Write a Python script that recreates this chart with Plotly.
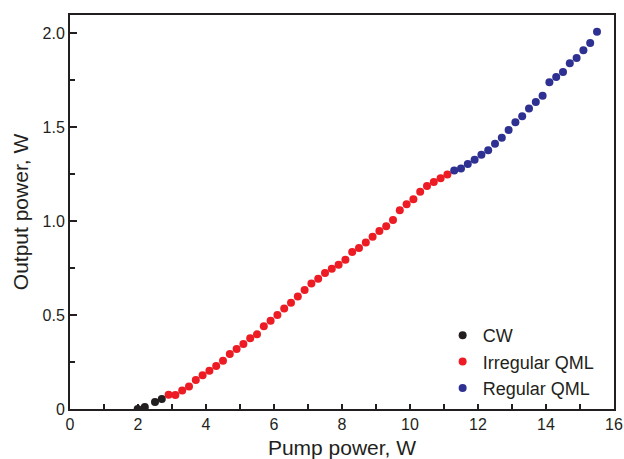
import plotly.graph_objects as go

cw_x = [1.99, 2.2, 2.5, 2.7]
cw_y = [0.0, 0.01, 0.037, 0.053]

irr_x = [2.9, 3.1, 3.3, 3.5, 3.7, 3.9, 4.1, 4.3, 4.5, 4.7, 4.9, 5.1, 5.3, 5.5, 5.7, 5.9,
         6.1, 6.3, 6.5, 6.7, 6.9, 7.1, 7.3, 7.5, 7.7, 7.9, 8.1, 8.3, 8.5, 8.7, 8.9, 9.1,
         9.3, 9.5, 9.7, 9.9, 10.1, 10.3, 10.5, 10.7, 10.9, 11.1]
irr_y = [0.076, 0.075, 0.099, 0.12, 0.154, 0.18, 0.204, 0.229, 0.257, 0.292, 0.319, 0.346,
         0.376, 0.397, 0.44, 0.47, 0.50, 0.535, 0.565, 0.599, 0.633, 0.668, 0.693, 0.723,
         0.746, 0.768, 0.794, 0.835, 0.856, 0.886, 0.916, 0.947, 0.972, 1.005, 1.057,
         1.089, 1.116, 1.156, 1.186, 1.208, 1.227, 1.247]

reg_x = [11.3, 11.5, 11.7, 11.9, 12.1, 12.3, 12.5, 12.7, 12.9, 13.1, 13.3, 13.5, 13.7,
         13.9, 14.1, 14.3, 14.5, 14.7, 14.9, 15.1, 15.3, 15.5]
reg_y = [1.269, 1.279, 1.303, 1.326, 1.353, 1.376, 1.411, 1.443, 1.484, 1.525, 1.557,
         1.598, 1.633, 1.667, 1.738, 1.766, 1.793, 1.839, 1.867, 1.908, 1.947, 2.007]

x_ticks = [0, 2, 4, 6, 8, 10, 12, 14, 16]
x_ticktext = ["0", "2", "4", "6", "8", "10", "12", "14", "16"]
y_ticks = [0, 0.5, 1.0, 1.5, 2.0]
y_ticktext = ["0", "0.5", "1.0", "1.5", "2.0"]

FONT = "Arial, Liberation Sans, Helvetica, sans-serif"
INK = "#231f20"

fig = go.Figure()
for name, xs, ys, col in [("CW", cw_x, cw_y, "#231f20"),
                          ("Irregular QML", irr_x, irr_y, "#ed1c24"),
                          ("Regular QML", reg_x, reg_y, "#2e3192")]:
    fig.add_trace(go.Scatter(x=xs, y=ys, mode="markers", name=name,
                             marker=dict(color=col, size=8, line=dict(width=0))))

fig.update_layout(
    width=624, height=459,
    margin=dict(l=70, r=10, t=15, b=50),
    paper_bgcolor="white", plot_bgcolor="white",
    font=dict(family=FONT, color=INK, size=16),
    showlegend=True,
    legend=dict(x=0.685, y=0.2335, xanchor="left", yanchor="top",
                font=dict(size=18, color=INK), bgcolor="rgba(0,0,0,0)",
                itemwidth=30, tracegroupgap=0),
    xaxis=dict(range=[0, 16], tickvals=x_ticks, ticktext=x_ticktext,
               ticks="inside", ticklen=5, tickwidth=1.5, tickcolor=INK,
               minor=dict(dtick=1, ticks="inside", ticklen=5, tickwidth=1.5, tickcolor=INK),
               showline=True, linecolor=INK, linewidth=2, mirror=True,
               showgrid=False, zeroline=False, automargin=False,
               tickfont=dict(size=16),
               title=dict(text="Pump power, W", font=dict(size=21), standoff=10)),
    yaxis=dict(range=[0, 2.096], tickvals=y_ticks, ticktext=y_ticktext,
               ticks="inside", ticklen=7, tickwidth=1.5, tickcolor=INK,
               minor=dict(dtick=0.25, ticks="inside", ticklen=5, tickwidth=1.5, tickcolor=INK),
               showline=True, linecolor=INK, linewidth=2, mirror=True,
               showgrid=False, zeroline=False, automargin=False,
               tickfont=dict(size=16),
               title=dict(text="Output power, W", font=dict(size=21), standoff=8)),
)

fig.write_html("out.html", config={"displayModeBar": False},
               post_script="document.body.style.margin='0';document.body.style.padding='0';")
